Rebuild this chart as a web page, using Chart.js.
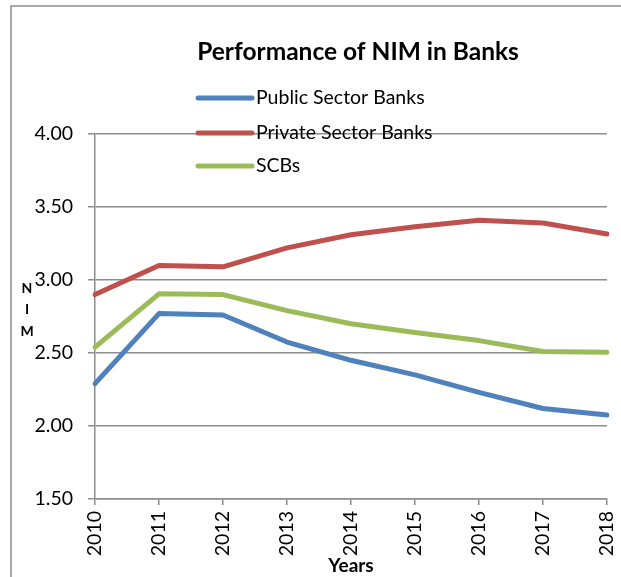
<!DOCTYPE html>
<html>
<head>
<meta charset="utf-8">
<script src="https://cdn.jsdelivr.net/npm/chart.js@4/dist/chart.umd.min.js"></script>
<style>
  html, body { margin: 0; padding: 0; background: #fff; }
  #wrap { position: relative; width: 621px; height: 577px; }
</style>
</head>
<body>
<div id="wrap"><canvas id="c" width="621" height="577"></canvas></div>
<script>
const years = ['2010','2011','2012','2013','2014','2015','2016','2017','2018'];
const publicSector = [2.29, 2.77, 2.76, 2.575, 2.45, 2.35, 2.23, 2.12, 2.075];
const privateSector = [2.90, 3.10, 3.09, 3.22, 3.31, 3.365, 3.41, 3.39, 3.315];
const scbs = [2.54, 2.905, 2.90, 2.79, 2.70, 2.64, 2.585, 2.51, 2.505];
const seriesNames = ['Public Sector Banks', 'Private Sector Banks', 'SCBs'];
const seriesColors = ['#4F81BD', '#C0504D', '#9BBB59'];
const chartTitle = 'Performance of NIM in Banks';
const xTitle = 'Years';
const yTitleLetters = ['N', 'I', 'M'];
const yTicks = { min: 1.5, max: 4.0, step: 0.5 };

const FONT = 'Lato, "Liberation Sans", sans-serif';
const GRID = '#8c8c8c';

const decor = {
  id: 'decor',
  beforeDraw(chart) {
    const ctx = chart.ctx;
    ctx.save();
    ctx.strokeStyle = '#8c8c8c';
    ctx.lineWidth = 1.5;
    ctx.beginPath();
    ctx.moveTo(11, 577);
    ctx.lineTo(11, 6);
    ctx.lineTo(621, 6);
    ctx.stroke();
    ctx.restore();
  },
  afterDraw(chart) {
    const ctx = chart.ctx;
    ctx.save();
    ctx.fillStyle = '#000';
    ctx.font = 'bold 24.5px ' + FONT;
    ctx.textAlign = 'center';
    ctx.textBaseline = 'middle';
    ctx.fillText(chartTitle, 358, 52);
    const ys = [98, 133, 166];
    chart.data.datasets.forEach((ds, i) => {
      ctx.strokeStyle = ds.borderColor;
      ctx.lineWidth = 5;
      ctx.lineCap = 'round';
      ctx.beginPath();
      ctx.moveTo(198, ys[i]);
      ctx.lineTo(252, ys[i]);
      ctx.stroke();
      ctx.fillStyle = '#000';
      ctx.font = '19.5px ' + FONT;
      ctx.textAlign = 'left';
      ctx.fillText(ds.label, 256, ys[i]);
    });
    ctx.font = 'bold 14px ' + FONT;
    ctx.textAlign = 'center';
    const lys = [288, 309, 331];
    yTitleLetters.forEach((t, i) => ctx.fillText(t, 27, lys[i]));
    ctx.restore();
  }
};

new Chart(document.getElementById('c'), {
  type: 'line',
  data: {
    labels: years,
    datasets: [publicSector, privateSector, scbs].map((d, i) => ({
      label: seriesNames[i],
      data: d,
      borderColor: seriesColors[i],
      backgroundColor: seriesColors[i],
      borderWidth: 5,
      pointRadius: 0,
      tension: 0,
      borderCapStyle: 'round',
      borderJoinStyle: 'round',
      fill: false
    }))
  },
  options: {
    responsive: false,
    animation: false,
    devicePixelRatio: 1,
    layout: { padding: { left: 0, right: 14, top: 134, bottom: 0 } },
    plugins: {
      legend: { display: false },
      title: { display: false },
      tooltip: { enabled: false }
    },
    scales: {
      x: {
        offset: false,
        afterFit(scale) { scale.height = 78; scale.paddingLeft = 0; scale.paddingRight = 0; },
        grid: { drawOnChartArea: false, drawTicks: true, tickLength: 6, color: GRID, lineWidth: 1.5 },
        border: { display: true, color: GRID, width: 1.5 },
        ticks: {
          color: '#000', font: { family: FONT, size: 19.5 },
          minRotation: 90, maxRotation: 90, padding: 6, autoSkip: false
        },
        title: {
          display: true, text: xTitle, color: '#000',
          font: { family: FONT, size: 19, weight: 'bold' },
          padding: { top: 0, bottom: 0 }
        }
      },
      y: {
        min: yTicks.min, max: yTicks.max,
        afterFit(scale) { scale.width = 95; scale.paddingTop = 0; scale.paddingBottom = 0; },
        grid: { drawOnChartArea: true, drawTicks: true, tickLength: 7, color: GRID, lineWidth: 1.5 },
        border: { display: true, color: GRID, width: 1.5 },
        ticks: {
          stepSize: yTicks.step, color: '#000', padding: 15,
          font: { family: FONT, size: 19.5 },
          callback: v => Number(v).toFixed(2)
        }
      }
    }
  },
  plugins: [decor]
});
</script>
</body>
</html>
